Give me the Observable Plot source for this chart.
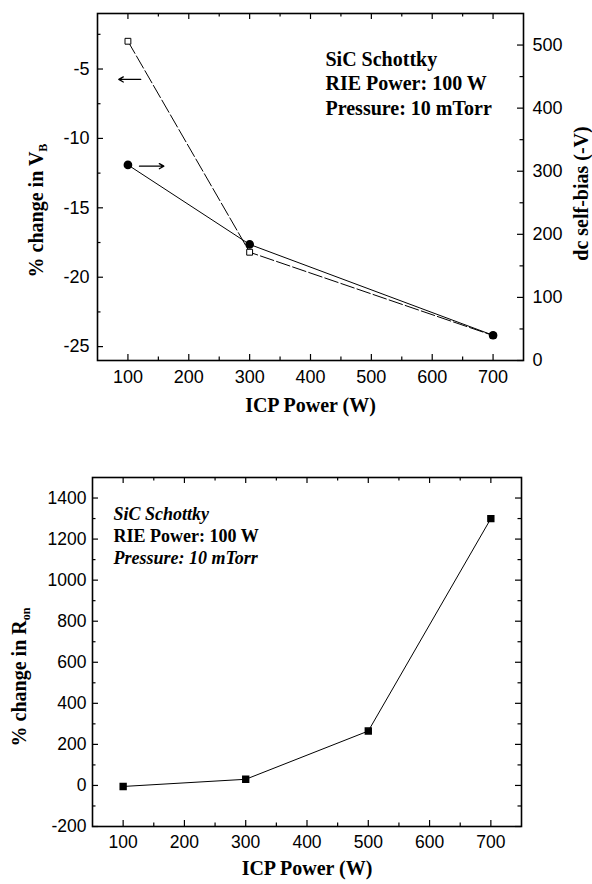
<!DOCTYPE html>
<html><head><meta charset="utf-8">
<script src="https://cdn.jsdelivr.net/npm/d3@7"></script>
<script src="https://cdn.jsdelivr.net/npm/@observablehq/plot@0.6"></script>
<style>body{margin:0;background:#fff} #c{width:592px} svg{display:block}</style>
</head><body><div id="c"></div>
<script>
// ---- data ----
const icpPower = [100, 300, 700];
const vbChange = [-3.0, -18.2, -24.2];      // % change in V_B (left axis)
const dcBias = [310, 184, 40];              // dc self-bias (-V) (right axis)
const ronPower = [100, 300, 500, 700];
const ronChange = [-5, 30, 265, 1300];      // % change in R_on

const xTicks = [100, 200, 300, 400, 500, 600, 700];
const xMinor = [150, 250, 350, 450, 550, 650];
const vbTicks = [-25, -20, -15, -10, -5];
const vbMinor = [-22.5, -17.5, -12.5, -7.5, -2.5];
const biasTicks = [0, 100, 200, 300, 400, 500];
const biasMinor = [50, 150, 250, 350, 450];
const ronTicks = [-200, 0, 200, 400, 600, 800, 1000, 1200, 1400];
const ronMinor = [-100, 100, 300, 500, 700, 900, 1100, 1300];

const annotLines = ["SiC Schottky", "RIE Power: 100 W", "Pressure: 10 mTorr"];
const arrowsVB = [{x1: 121, x2: 85, y: -5.75}];   // points to left axis
const arrowsBias = [{x1: 119, x2: 159, y: -12.0}]; // points to right axis

// ---- layout ----
const W = 592;
const SERIF = "Liberation Serif, Times New Roman, serif";
const SANS = "Liberation Sans, Arial, sans-serif";
const vbDomain = [-26, -1];
const biasDomain = [0, 550];
const toLeft = d3.scaleLinear(biasDomain, vbDomain);

function ticks(fw, fh, {bx = [], bxm = [], ly = [], lym = [], ry = [], rym = []}) {
  const M = 6, m = 3.5, s = {stroke: "black", strokeWidth: 1.2};
  return [
    Plot.tickX(bx, {x: d => d, insetTop: fh - M, ...s}),
    Plot.tickX(bxm, {x: d => d, insetTop: fh - m, ...s}),
    Plot.tickX(bx, {x: d => d, insetBottom: fh - M, ...s}),
    Plot.tickX(bxm, {x: d => d, insetBottom: fh - m, ...s}),
    Plot.tickY(ly, {y: d => d, insetRight: fw - M, ...s}),
    Plot.tickY(lym, {y: d => d, insetRight: fw - m, ...s}),
    Plot.tickY(ry, {y: d => d, insetLeft: fw - M, ...s}),
    Plot.tickY(rym, {y: d => d, insetLeft: fw - m, ...s})
  ];
}

function addSub(svg, main, sub) {
  d3.select(svg).selectAll("text").filter(function () { return this.textContent === main; })
    .append("tspan").attr("dy", "0.35em").attr("font-size", 12).text(sub);
}

const titleStyle = {fontSize: 20, fontWeight: "bold", fontFamily: SERIF, fill: "black"};

// ---- top chart ----
const T = {left: 97, right: 69, top: 13, bottom: 80, h: 440};
const tfw = W - T.left - T.right, tfh = T.h - T.top - T.bottom;
const topData = icpPower.map((p, i) => ({p, vb: vbChange[i], bias: toLeft(dcBias[i])}));

const topPlot = Plot.plot({
  width: W, height: T.h,
  marginLeft: T.left, marginRight: T.right, marginTop: T.top, marginBottom: T.bottom,
  x: {domain: [50, 750]},
  y: {domain: vbDomain},
  style: {background: "white", color: "black"},
  marks: [
    Plot.frame({stroke: "black", strokeWidth: 1.6}),
    ...ticks(tfw, tfh, {bx: xTicks, bxm: xMinor, ly: vbTicks, lym: vbMinor,
      ry: biasTicks.map(toLeft), rym: biasMinor.map(toLeft)}),
    Plot.axisX({ticks: xTicks, anchor: "bottom", tickSize: 0, tickPadding: 10, fontSize: 18, fontFamily: SANS, label: null}),
    Plot.axisY({ticks: vbTicks, anchor: "left", tickSize: 0, tickPadding: 8, fontSize: 18, fontFamily: SANS, label: null, tickFormat: d => String(d)}),
    Plot.axisY({ticks: biasTicks.map(toLeft), anchor: "right", tickSize: 0, tickPadding: 9, fontSize: 18, fontFamily: SANS, label: null,
      tickFormat: d => String(Math.round(toLeft.invert(d)))}),
    Plot.line(topData, {x: "p", y: "vb", stroke: "black", strokeWidth: 1, strokeDasharray: "14,3"}),
    Plot.line(topData, {x: "p", y: "bias", stroke: "black", strokeWidth: 1}),
    Plot.dot(topData, {x: "p", y: "vb", symbol: "square", r: 3.3, fill: "white", stroke: "black", strokeWidth: 1}),
    Plot.dot(topData, {x: "p", y: "bias", r: 3.6, fill: "black", stroke: "black"}),
    Plot.arrow(arrowsVB, {x1: "x1", x2: "x2", y1: "y", y2: "y", stroke: "black", strokeWidth: 1.3, headLength: 6}),
    Plot.arrow(arrowsBias, {x1: "x1", x2: "x2", y1: "y", y2: "y", stroke: "black", strokeWidth: 1.3, headLength: 6}),
    ...annotLines.map((t, i) => Plot.text([t], {frameAnchor: "top-left", dx: 325 - T.left, dy: 38 + 24.5 * i,
      textAnchor: "start", fontSize: 20, fontWeight: "bold", fontFamily: SERIF, fill: "black"})),
    Plot.text(["ICP Power (W)"], {frameAnchor: "bottom", dy: 51, ...titleStyle}),
    Plot.text(["% change in V"], {frameAnchor: "left", textAnchor: "middle", rotate: -90, dx: 36 - T.left, dy: 23.5, ...titleStyle}),
    Plot.text(["dc self-bias (-V)"], {frameAnchor: "right", textAnchor: "middle", rotate: -90, dx: 581 - (W - T.right), dy: 6.5, ...titleStyle})
  ]
});
addSub(topPlot, "% change in V", "B");

// ---- bottom chart ----
const B = {left: 92, right: 71, top: 37, bottom: 58, h: 444};
const bfw = W - B.left - B.right, bfh = B.h - B.top - B.bottom;
const botData = ronPower.map((p, i) => ({p, r: ronChange[i]}));
const botStyles = [{fontStyle: "italic"}, {fontStyle: "normal"}, {fontStyle: "italic"}];

const botPlot = Plot.plot({
  width: W, height: B.h,
  marginLeft: B.left, marginRight: B.right, marginTop: B.top, marginBottom: B.bottom,
  x: {domain: [50, 750]},
  y: {domain: [-200, 1500]},
  style: {background: "white", color: "black"},
  marks: [
    Plot.frame({stroke: "black", strokeWidth: 1.6}),
    ...ticks(bfw, bfh, {bx: xTicks, bxm: xMinor, ly: ronTicks, lym: ronMinor, ry: ronTicks, rym: ronMinor}),
    Plot.axisX({ticks: xTicks, anchor: "bottom", tickSize: 0, tickPadding: 9, fontSize: 17.5, fontFamily: SANS, label: null}),
    Plot.axisY({ticks: ronTicks, anchor: "left", tickSize: 0, tickPadding: 6, fontSize: 17.5, fontFamily: SANS, label: null, tickFormat: d => String(d)}),
    Plot.line(botData, {x: "p", y: "r", stroke: "black", strokeWidth: 1}),
    Plot.dot(botData, {x: "p", y: "r", symbol: "square", r: 3.3, fill: "black", stroke: "black"}),
    ...annotLines.map((t, i) => Plot.text([t], {frameAnchor: "top-left", dx: 113 - B.left, dy: 30 + 22 * i,
      textAnchor: "start", fontSize: 18, fontWeight: "bold", fontFamily: SERIF, fill: "black", ...botStyles[i]})),
    Plot.text(["ICP Power (W)"], {frameAnchor: "bottom", dy: 48, ...titleStyle}),
    Plot.text(["% change in R"], {frameAnchor: "left", textAnchor: "middle", rotate: -90, dx: 19 - B.left, dy: 25, ...titleStyle})
  ]
});
addSub(botPlot, "% change in R", "on");

document.getElementById("c").append(topPlot, botPlot);
</script>
</body></html>
